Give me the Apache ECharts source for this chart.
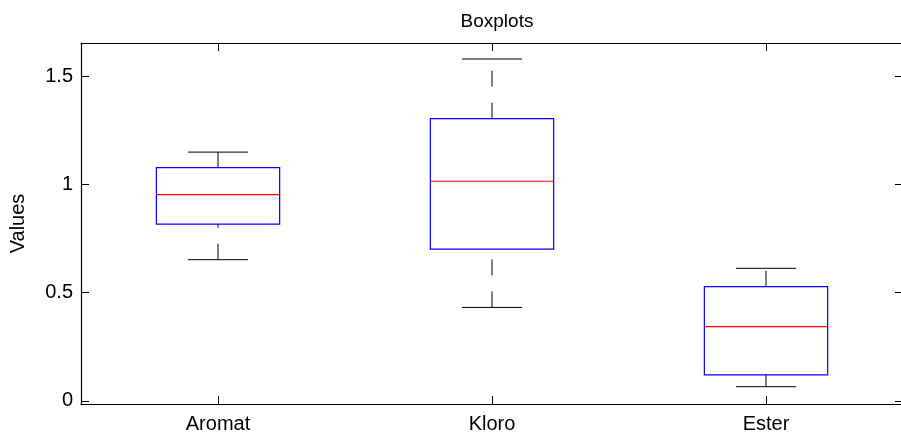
<!DOCTYPE html>
<html>
<head>
<meta charset="utf-8">
<title>Boxplots</title>
<script src="https://cdn.jsdelivr.net/npm/echarts@6/dist/echarts.min.js"></script>
<style>
  html, body { margin: 0; padding: 0; background: #fff; }
  #chart { width: 901px; height: 443px; }
</style>
</head>
<body>
<div id="chart"></div>
<script>
// data
const categories = ['Aromat', 'Kloro', 'Ester']
const lowerWhisker = [0.653, 0.432, 0.065]
const q1 = [0.818, 0.702, 0.120]
const median = [0.954, 1.016, 0.343]
const q3 = [1.079, 1.306, 0.528]
const upperWhisker = [1.151, 1.582, 0.613]
const yTicks = [0, 0.5, 1, 1.5]

const font = 'Liberation Sans, Arial, Helvetica, sans-serif'

const boxData = categories.map((c, i) => [i, lowerWhisker[i], q1[i], median[i], q3[i], upperWhisker[i]])

function renderBox(params, api) {
  const i = api.value(0)
  const band = api.size([1, 0])[0]
  const boxW = band * 0.45
  const capW = band * 0.22
  const pLow = api.coord([i, api.value(1)])
  const pQ1 = api.coord([i, api.value(2)])
  const pMed = api.coord([i, api.value(3)])
  const pQ3 = api.coord([i, api.value(4)])
  const pHigh = api.coord([i, api.value(5)])
  const cx = pMed[0]
  const whisker = { stroke: '#000', lineWidth: 1, lineDash: [16, 16] }
  const solid = { stroke: '#000', lineWidth: 1 }
  return {
    type: 'group',
    children: [
      // whiskers drawn from low value to high value, like matlab does
      { type: 'line', shape: { x1: cx, y1: pLow[1], x2: cx, y2: pQ1[1] }, style: whisker },
      { type: 'line', shape: { x1: cx, y1: pQ3[1], x2: cx, y2: pHigh[1] }, style: whisker },
      { type: 'line', shape: { x1: cx - capW / 2, y1: pLow[1], x2: cx + capW / 2, y2: pLow[1] }, style: solid },
      { type: 'line', shape: { x1: cx - capW / 2, y1: pHigh[1], x2: cx + capW / 2, y2: pHigh[1] }, style: solid },
      {
        type: 'rect',
        shape: { x: cx - boxW / 2, y: pQ3[1], width: boxW, height: pQ1[1] - pQ3[1] },
        style: { fill: 'none', stroke: '#0000ff', lineWidth: 1.2 }
      },
      {
        type: 'line',
        shape: { x1: cx - boxW / 2, y1: pMed[1], x2: cx + boxW / 2, y2: pMed[1] },
        style: { stroke: '#ff0000', lineWidth: 1.2 }
      }
    ]
  }
}

const chart = echarts.init(document.getElementById('chart'))

const axisLine = { show: true, onZero: false, lineStyle: { color: '#000', width: 1.2 } }
const tick = { show: true, inside: true, length: 8, lineStyle: { color: '#000' } }

chart.setOption({
  animation: false,
  backgroundColor: '#fff',
  title: {
    text: 'Boxplots',
    left: 492,
    textAlign: 'center',
    top: 7,
    textStyle: { fontFamily: font, fontSize: 19, fontWeight: 'normal', color: '#000' }
  },
  grid: {
    left: 81,
    top: 43,
    width: 822,
    height: 361,
    containLabel: false,
    outerBoundsMode: 'none'
  },
  xAxis: [
    {
      type: 'category',
      data: categories,
      position: 'bottom',
      boundaryGap: true,
      axisLine: axisLine,
      axisTick: Object.assign({ alignWithLabel: true }, tick),
      axisLabel: { show: true, margin: 10, fontFamily: font, fontSize: 20, color: '#000' },
      splitLine: { show: false }
    },
    {
      type: 'category',
      data: categories,
      position: 'top',
      boundaryGap: true,
      axisLine: axisLine,
      axisTick: Object.assign({ alignWithLabel: true }, tick),
      axisLabel: { show: false },
      splitLine: { show: false }
    }
  ],
  yAxis: [
    {
      type: 'value',
      min: -0.015,
      max: 1.656,
      position: 'left',
      name: 'Values',
      nameLocation: 'middle',
      nameGap: 53,
      nameRotate: 90,
      nameTextStyle: { fontFamily: font, fontSize: 20, color: '#000' },
      axisLine: axisLine,
      axisTick: Object.assign({ customValues: yTicks }, tick),
      axisLabel: { show: true, margin: 8, customValues: yTicks, fontFamily: font, fontSize: 20, color: '#000' },
      splitLine: { show: false }
    },
    {
      type: 'value',
      min: -0.015,
      max: 1.656,
      position: 'right',
      axisLine: axisLine,
      axisTick: Object.assign({ customValues: yTicks }, tick),
      axisLabel: { show: false },
      splitLine: { show: false }
    }
  ],
  series: [
    {
      name: 'box',
      type: 'custom',
      xAxisIndex: 0,
      yAxisIndex: 0,
      renderItem: renderBox,
      encode: { x: 0, y: [1, 2, 3, 4, 5] },
      data: boxData,
      silent: true
    }
  ]
})
</script>
</body>
</html>
